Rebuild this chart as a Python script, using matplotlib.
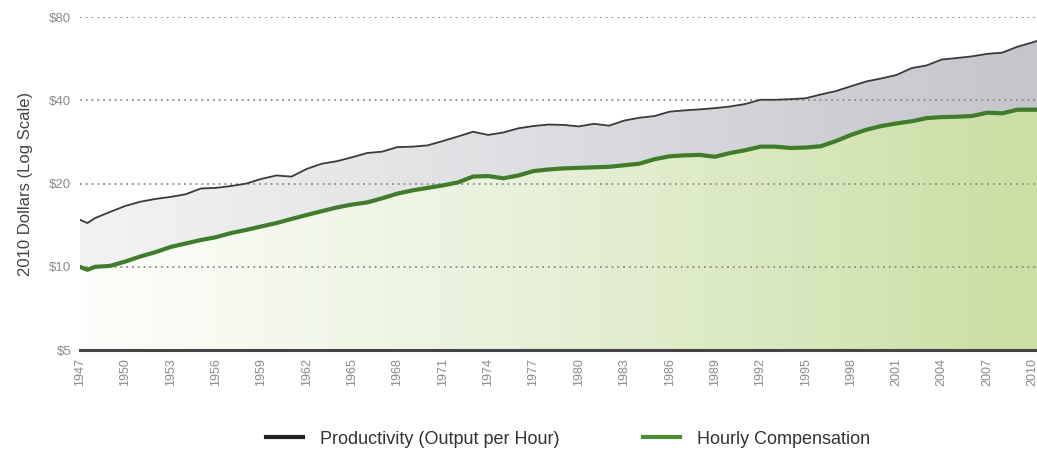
import numpy as np
import matplotlib
matplotlib.use("Agg")
import matplotlib.pyplot as plt
from matplotlib.colors import LinearSegmentedColormap
from matplotlib.lines import Line2D

# ---- data (2010 dollars) ----
years = [1947, 1947.5, 1948, 1949, 1950, 1951, 1952, 1953, 1954, 1955, 1956, 1957, 1958, 1959,
         1960, 1961, 1962, 1963, 1964, 1965, 1966, 1967, 1968, 1969, 1970, 1971, 1972, 1973,
         1974, 1975, 1976, 1977, 1978, 1979, 1980, 1981, 1982, 1983, 1984, 1985, 1986, 1987,
         1988, 1989, 1990, 1991, 1992, 1993, 1994, 1995, 1996, 1997, 1998, 1999, 2000, 2001,
         2002, 2003, 2004, 2005, 2006, 2007, 2008, 2009, 2010, 2010.3]
productivity = [14.8, 14.4, 15.0, 15.8, 16.6, 17.2, 17.6, 17.9, 18.3, 19.2, 19.3, 19.6, 20.0, 20.8,
                21.4, 21.2, 22.6, 23.6, 24.1, 24.9, 25.8, 26.1, 27.1, 27.2, 27.5, 28.5, 29.6, 30.8,
                30.0, 30.6, 31.7, 32.3, 32.7, 32.6, 32.2, 32.9, 32.4, 33.8, 34.6, 35.1, 36.4, 36.8,
                37.1, 37.5, 38.0, 38.8, 40.2, 40.2, 40.4, 40.7, 42.0, 43.2, 45.0, 46.8, 48.0, 49.4,
                52.3, 53.5, 56.2, 56.9, 57.7, 58.9, 59.5, 62.5, 64.8, 65.6]
compensation = [10.0, 9.76, 10.0, 10.08, 10.45, 10.9, 11.3, 11.8, 12.15, 12.5, 12.8, 13.25, 13.6, 14.0,
                14.4, 14.9, 15.4, 15.9, 16.4, 16.8, 17.1, 17.7, 18.4, 18.9, 19.3, 19.7, 20.2, 21.2,
                21.3, 20.9, 21.4, 22.2, 22.5, 22.7, 22.8, 22.9, 23.0, 23.3, 23.6, 24.5, 25.1, 25.3,
                25.4, 25.0, 25.8, 26.4, 27.2, 27.2, 26.9, 27.0, 27.3, 28.5, 30.0, 31.3, 32.3, 33.0,
                33.6, 34.5, 34.8, 34.9, 35.1, 36.1, 35.9, 37.0, 37.0, 37.0]
xtick_years = list(range(1947, 2011, 3))
ytick_values = [5, 10, 20, 40, 80]
ytick_labels = ["$5", "$10", "$20", "$40", "$80"]
series_names = ["Productivity (Output per Hour)", "Hourly Compensation"]

plt.rcParams['font.family'] = ['Liberation Sans', 'DejaVu Sans']

fig = plt.figure(figsize=(10.37, 4.5), dpi=100)
ax = fig.add_axes([0.077, 0.222, 0.923, 0.740])
ax.set_yscale('log')
x0, x1 = 1947, 2010.3
ax.set_xlim(x0, x1)
ax.set_ylim(5, 80)

# gradient fills clipped to polygons
gray_cmap = LinearSegmentedColormap.from_list('g', ['#f3f3f4', '#dcdde0', '#c4c6cb'])
green_cmap = LinearSegmentedColormap.from_list('gr', ['#fdfefb', '#e6f0d6', '#c9dfa3'])
grad = np.linspace(0, 1, 256).reshape(1, -1)

poly_gray = ax.fill_between(years, compensation, productivity, facecolor='none', edgecolor='none')
poly_green = ax.fill_between(years, 5, compensation, facecolor='none', edgecolor='none')

im1 = ax.imshow(grad, cmap=gray_cmap, extent=[0, 1, 0, 1], transform=ax.transAxes,
                aspect='auto', zorder=1, interpolation='bilinear')
im1.set_clip_path(poly_gray.get_paths()[0], transform=ax.transData)
im2 = ax.imshow(grad, cmap=green_cmap, extent=[0, 1, 0, 1], transform=ax.transAxes,
                aspect='auto', zorder=1, interpolation='bilinear')
im2.set_clip_path(poly_green.get_paths()[0], transform=ax.transData)
ax.set_xlim(x0, x1)
ax.set_ylim(5, 80)

# gridlines
for v in ytick_values[1:]:
    ax.axhline(v, color='#8a8a8a', lw=1.3, linestyle=(0, (1, 2.2)), zorder=2)
ax.axhline(5, color='#444444', lw=2.2, zorder=4, clip_on=False)

ax.plot(years, productivity, color='#3a3a3a', lw=1.3, zorder=3)
ax.plot(years, compensation, color='#3f7d2b', lw=3.0, zorder=3)

for s in ax.spines.values():
    s.set_visible(False)

ax.set_yticks(ytick_values)
ax.set_yticklabels(ytick_labels)
ax.yaxis.set_minor_locator(matplotlib.ticker.NullLocator())
ax.tick_params(axis='y', length=0, pad=6, labelsize=9.5, labelcolor='#8a8a8a')
ax.set_xticks(xtick_years)
ax.set_xticklabels([str(y) for y in xtick_years], rotation=90)
ax.tick_params(axis='x', length=0, pad=6, labelsize=9, labelcolor='#8a8a8a')
ax.set_ylabel("2010 Dollars (Log Scale)", fontsize=12, color='#444444', labelpad=12)

handles = [Line2D([0], [0], color='#222222', lw=3),
           Line2D([0], [0], color='#4c8c33', lw=3)]
fig.legend(handles, series_names, loc='center', bbox_to_anchor=(0.548, 0.024), ncol=2,
           frameon=False, fontsize=13, handlelength=2.05, handletextpad=0.95, columnspacing=4.6,
           labelcolor='#333333')

fig.savefig("out.png", dpi=100)
